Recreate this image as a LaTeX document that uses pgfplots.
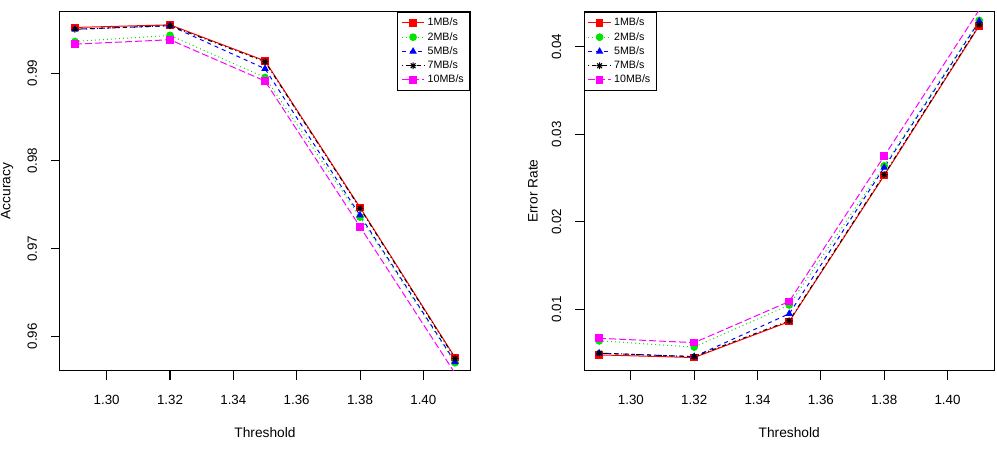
\documentclass[border=0pt]{standalone}
\usepackage{pgfplots}
\pgfplotsset{compat=1.18}
\usepackage{fontspec}
\setmainfont{Liberation Sans}

% R's pch 8: a "+" laid over an "x"
\pgfdeclareplotmark{rstar}{%
  \pgfpathmoveto{\pgfqpoint{-\pgfplotmarksize}{0pt}}%
  \pgfpathlineto{\pgfqpoint{\pgfplotmarksize}{0pt}}%
  \pgfpathmoveto{\pgfqpoint{0pt}{-\pgfplotmarksize}}%
  \pgfpathlineto{\pgfqpoint{0pt}{\pgfplotmarksize}}%
  \pgfpathmoveto{\pgfqpoint{-0.707\pgfplotmarksize}{-0.707\pgfplotmarksize}}%
  \pgfpathlineto{\pgfqpoint{0.707\pgfplotmarksize}{0.707\pgfplotmarksize}}%
  \pgfpathmoveto{\pgfqpoint{-0.707\pgfplotmarksize}{0.707\pgfplotmarksize}}%
  \pgfpathlineto{\pgfqpoint{0.707\pgfplotmarksize}{-0.707\pgfplotmarksize}}%
  \pgfusepathqstroke}

\definecolor{cRed}{rgb}{1,0,0}
\definecolor{cGreen}{rgb}{0,0.9,0}
\definecolor{cBlue}{rgb}{0,0,1}
\definecolor{cMag}{rgb}{1,0,1}

% R line types
\tikzset{
  rdotted/.style={dash pattern=on 0.75pt off 2.25pt},
  rdashed/.style={dash pattern=on 3pt off 3pt},
  rdotdash/.style={dash pattern=on 0.75pt off 2.25pt on 3pt off 2.25pt},
  rlongdash/.style={dash pattern=on 5.25pt off 2.25pt},
}

\pgfplotsset{
  rbase/.style={
    scale only axis, width=307.8pt, height=269.25pt,
    anchor=south west,
    xmin=1.2852, xmax=1.4148,
    xtick={1.30,1.32,1.34,1.36,1.38,1.40},
    tick align=outside, major tick length=6.75pt,
    xtick pos=bottom, ytick pos=left,
    axis line style={line width=0.75pt},
    every tick/.style={black, line width=0.75pt},
    tick label style={font=\fontsize{10}{12}\selectfont},
    label style={font=\fontsize{10.3}{12}\selectfont},
    /pgf/number format/assume math mode=true,
    xticklabel style={yshift=-8.25pt, /pgf/number format/.cd, fixed, fixed zerofill, precision=2},
    yticklabel style={rotate=90, anchor=south, yshift=6.75pt, /pgf/number format/.cd, fixed, fixed zerofill, precision=2},
    scaled ticks=false,
    xlabel={Threshold},
    xlabel style={at={(axis description cs:0.5,0)}, anchor=center, yshift=-46.5pt},
    ylabel style={at={(axis description cs:0,0.5)}, anchor=center, yshift=38.25pt},
    legend style={font=\fontsize{8}{9}\selectfont, draw=black, line width=0.6pt,
      inner xsep=2.5pt, inner ysep=2.5pt, row sep=-0.6pt, legend cell align=left},
    legend image code/.code={%
      \draw[mark repeat=2, mark phase=2] plot coordinates {(0cm,0cm) (0.3cm,0cm) (0.6cm,0cm)};},
    every axis plot/.append style={line width=0.75pt, mark size=2.5pt, mark options={solid}},
  },
}

\begin{document}
\begin{tikzpicture}
\useasboundingbox (0,0) rectangle (747.75pt,337.5pt);

% ---------------- Accuracy ----------------
\begin{axis}[rbase, at={(44.85pt,59.5pt)},
  ymin=0.9561, ymax=0.9970,
  ytick={0.96,0.97,0.98,0.99},
  ylabel={Accuracy},
  ylabel style={yshift=1.3pt},
  legend style={at={(1,1)}, anchor=north east}]
\addplot[cRed, solid, mark=square*] coordinates {(1.29,0.9952) (1.32,0.9955) (1.35,0.9914) (1.38,0.9747) (1.41,0.9576)};
\addplot[cGreen, rdotted, mark=*] coordinates {(1.29,0.9936) (1.32,0.9943) (1.35,0.9895) (1.38,0.9736) (1.41,0.9570)};
\addplot[cBlue, rdashed, mark=triangle*] coordinates {(1.29,0.9950) (1.32,0.9954) (1.35,0.9905) (1.38,0.9738) (1.41,0.9571)};
\addplot[black, rdotdash, mark=rstar] coordinates {(1.29,0.9950) (1.32,0.9954) (1.35,0.9913) (1.38,0.9746) (1.41,0.9575)};
\addplot[cMag, rlongdash, mark=square*] coordinates {(1.29,0.9933) (1.32,0.9938) (1.35,0.9891) (1.38,0.9725) (1.41,0.9558)};
\legend{1MB/s,2MB/s,5MB/s,7MB/s,10MB/s}
\end{axis}

% ---------------- Error rate ----------------
\begin{axis}[rbase, at={(438pt,59.5pt)},
  ymin=0.0030, ymax=0.0440,
  ytick={0.01,0.02,0.03,0.04},
  ylabel={Error Rate},
  legend style={at={(0,1)}, anchor=north west}]
\addplot[cRed, solid, mark=square*] coordinates {(1.29,0.0048) (1.32,0.0045) (1.35,0.0086) (1.38,0.0253) (1.41,0.0424)};
\addplot[cGreen, rdotted, mark=*] coordinates {(1.29,0.0064) (1.32,0.0057) (1.35,0.0105) (1.38,0.0264) (1.41,0.0430)};
\addplot[cBlue, rdashed, mark=triangle*] coordinates {(1.29,0.0050) (1.32,0.0046) (1.35,0.0095) (1.38,0.0262) (1.41,0.0429)};
\addplot[black, rdotdash, mark=rstar] coordinates {(1.29,0.0050) (1.32,0.0046) (1.35,0.0087) (1.38,0.0254) (1.41,0.0425)};
\addplot[cMag, rlongdash, mark=square*] coordinates {(1.29,0.0067) (1.32,0.0062) (1.35,0.0109) (1.38,0.0275) (1.41,0.0442)};
\legend{1MB/s,2MB/s,5MB/s,7MB/s,10MB/s}
\end{axis}
\end{tikzpicture}
\end{document}
